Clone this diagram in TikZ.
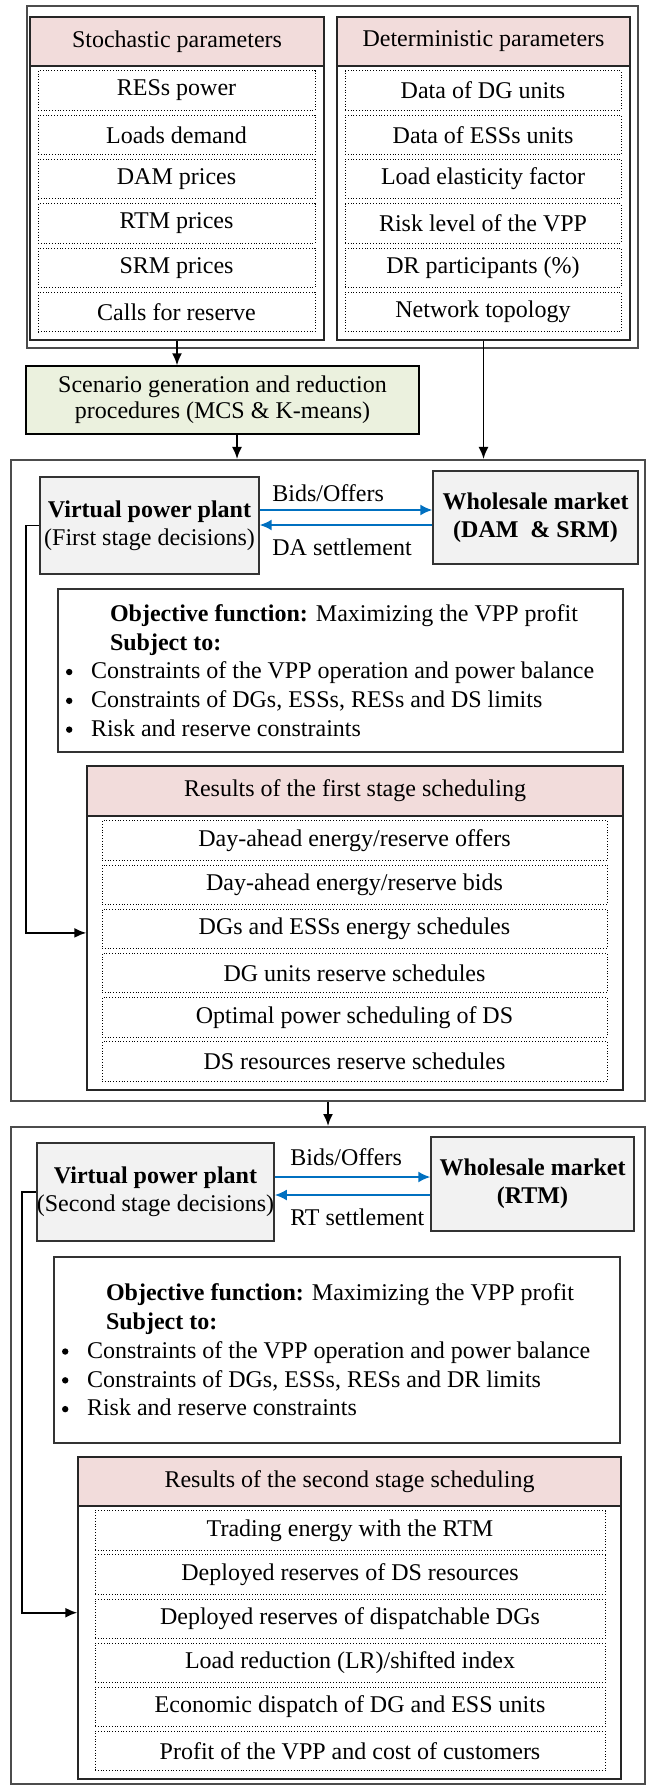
\documentclass[tikz,border=0pt]{standalone}
\usepackage{fontspec}
\setmainfont{Liberation Serif}
\usepackage{xcolor}
\usepackage{tikz}
\usetikzlibrary{arrows.meta,positioning}

\definecolor{headpink}{HTML}{F2DCDB}
\definecolor{scengreen}{HTML}{EBF1DE}
\definecolor{plantgrey}{HTML}{F2F2F2}
\definecolor{flowblue}{HTML}{0070C0}

\newcommand{\bul}{\makebox[12.5pt][l]{\tikz[baseline=-3.4pt]\fill (0,0) circle (1.6pt);}}

\tikzset{
  stagebox/.style={draw=black!70, line width=1pt, inner sep=0pt},
  colbox/.style={draw=black!85, line width=0.7pt, inner sep=0pt},
  headbox/.style={draw=black!85, line width=0.7pt, fill=headpink, inner sep=0pt},
  itembox/.style={draw, densely dotted, line width=0.4pt, inner sep=0pt, minimum height=19.75pt},
  plantbox/.style={draw=black!80, line width=0.7pt, fill=plantgrey, align=center, inner sep=0pt,
    font=\fontsize{12}{13.8}\selectfont},
  objbox/.style={draw=black!80, line width=0.7pt, inner xsep=4pt, inner ysep=0pt},
  flowlabel/.style={anchor=west, inner sep=0pt},
  flow/.style={-{Latex[length=6pt,width=5pt]}, line width=0.9pt},
  bidflow/.style={-{Latex[length=6pt,width=5.5pt]}, draw=flowblue, fill=flowblue, line width=0.9pt},
}

\begin{document}
\begin{tikzpicture}[x=1pt, y=-1pt, font=\fontsize{12}{14.4}\selectfont]
\useasboundingbox (0,0) rectangle (323,893);

% input parameters
\node[stagebox, minimum width=305.5pt, minimum height=171pt] (inputs) at (166.25,88.5) {};
\node[colbox, minimum width=147pt, minimum height=161.5pt] (stoch) at (88.5,89.25) {};
\node[headbox, minimum width=147pt, minimum height=24.5pt, anchor=north] (stochhead) at (stoch.north) {Stochastic parameters};
\node[colbox, minimum width=146.5pt, minimum height=161.5pt] (det) at (241.75,89.25) {};
\node[headbox, minimum width=146.5pt, minimum height=24.5pt, anchor=north] (dethead) at (det.north) {Deterministic parameters};
\foreach \txt [count=\i] in {RESs power, Loads demand, DAM prices, RTM prices, SRM prices, Calls for reserve}
  \node[itembox, minimum width=138.5pt] (stoch\i) at (88.25,{45.25+22.15*(\i-1)}) {\txt};
\foreach \txt [count=\i] in {Data of DG units, Data of ESSs units, Load elasticity factor, Risk level of the VPP, DR participants (\%), Network topology}
  \node[itembox, minimum width=138pt] (det\i) at (241.5,{45.25+22.15*(\i-1)}) {\txt};

% scenarios
\node[draw, line width=0.7pt, fill=scengreen, align=center, inner sep=0pt, minimum width=196.5pt, minimum height=34pt,
  font=\fontsize{12}{13}\selectfont] (scen) at (111.25,200) {Scenario generation and reduction\\procedures (MCS \& K-means)};

% first stage
\node[stagebox, minimum width=317pt, minimum height=320.5pt] (stage1) at (164,390.25) {};
\node[plantbox, minimum width=109.5pt, minimum height=48.5pt] (vpp1) at (74.75,262.75) {\textbf{Virtual power plant}\\(First stage decisions)};
\node[plantbox, minimum width=102.5pt, minimum height=46.5pt] (wm1) at (267.75,258.75) {\textbf{Wholesale market}\\\textbf{(DAM\ \ \& SRM)}};
\node[flowlabel] (bid1) at (136,246.5) {Bids/Offers};
\node[flowlabel] (set1) at (136,273.5) {DA settlement};

\node[objbox, minimum width=282.5pt, minimum height=81.5pt] (obj1) at (170.25,335.25) {%
\begin{minipage}{274.5pt}
\hspace*{22pt}\textbf{Objective function:} Maximizing the VPP profit\\
\hspace*{22pt}\textbf{Subject to:}\\
\bul Constraints of the VPP operation and power balance\\
\bul Constraints of DGs, ESSs, RESs and DS limits\\
\bul Risk and reserve constraints
\end{minipage}};

\node[colbox, minimum width=268pt, minimum height=162pt] (res1) at (177.5,464) {};
\node[headbox, minimum width=268pt, minimum height=25pt, anchor=north] (res1head) at (res1.north) {Results of the first stage scheduling};
\foreach \txt [count=\i] in {Day-ahead energy/reserve offers, Day-ahead energy/reserve bids, DGs and ESSs energy schedules,
    DG units reserve schedules, Optimal power scheduling of DS, DS resources reserve schedules}
  \node[itembox, minimum width=252.5pt] (res1i\i) at (177.25,{420.25+22.1*(\i-1)}) {\txt};

% second stage
\node[stagebox, minimum width=317pt, minimum height=328.5pt] (stage2) at (164,727.75) {};
\node[plantbox, minimum width=118.5pt, minimum height=49pt] (vpp2) at (77.75,596) {\textbf{Virtual power plant}\\(Second stage decisions)};
\node[plantbox, minimum width=101.5pt, minimum height=47pt] (wm2) at (266.25,592) {\textbf{Wholesale market}\\\textbf{(RTM)}};
\node[flowlabel] (bid2) at (145,578.5) {Bids/Offers};
\node[flowlabel] (set2) at (145,608.5) {RT settlement};

\node[objbox, minimum width=283pt, minimum height=93pt] (obj2) at (168.5,675) {%
\begin{minipage}{275pt}
\hspace*{22pt}\textbf{Objective function:} Maximizing the VPP profit\\
\hspace*{22pt}\textbf{Subject to:}\\
\bul Constraints of the VPP operation and power balance\\
\bul Constraints of DGs, ESSs, RESs and DR limits\\
\bul Risk and reserve constraints
\end{minipage}};

\node[colbox, minimum width=271.5pt, minimum height=161pt] (res2) at (174.75,809) {};
\node[headbox, minimum width=271.5pt, minimum height=24.5pt, anchor=north] (res2head) at (res2.north) {Results of the second stage scheduling};
\foreach \txt [count=\i] in {Trading energy with the RTM, Deployed reserves of DS resources, Deployed reserves of dispatchable DGs,
    Load reduction (LR)/shifted index, Economic dispatch of DG and ESS units, Profit of the VPP and cost of customers}
  \node[itembox, minimum width=255pt] (res2i\i) at (175,{765.25+22.05*(\i-1)}) {\txt};

% connectors
\draw[flow] (stoch.south) -- (stoch.south |- scen.north);
\draw[flow] (det.south) -- (det.south |- stage1.north);
\draw[flow] ([xshift=7.25pt]scen.south) -- ([xshift=7.25pt]scen.south |- stage1.north);
\draw[bidflow] ([yshift=7.75pt]vpp1.east) -- ([yshift=7.75pt]vpp1.east -| wm1.west);
\draw[bidflow] ([yshift=-3.75pt]wm1.west) -- ([yshift=-3.75pt]wm1.west -| vpp1.east);
\draw[flow] (vpp1.west) -- ++(-6.5,0) |- ([yshift=-2pt]res1i3.west -| res1.west);
\draw[flow] (stage1.south) -- (stage2.north);
\draw[bidflow] ([yshift=7.5pt]vpp2.east) -- ([yshift=7.5pt]vpp2.east -| wm2.west);
\draw[bidflow] ([yshift=-5.5pt]wm2.west) -- ([yshift=-5.5pt]wm2.west -| vpp2.east);
\draw[flow] (vpp2.west) -- ++(-7,0) |- ([yshift=3pt]res2i3.west -| res2.west);
\end{tikzpicture}
\end{document}
